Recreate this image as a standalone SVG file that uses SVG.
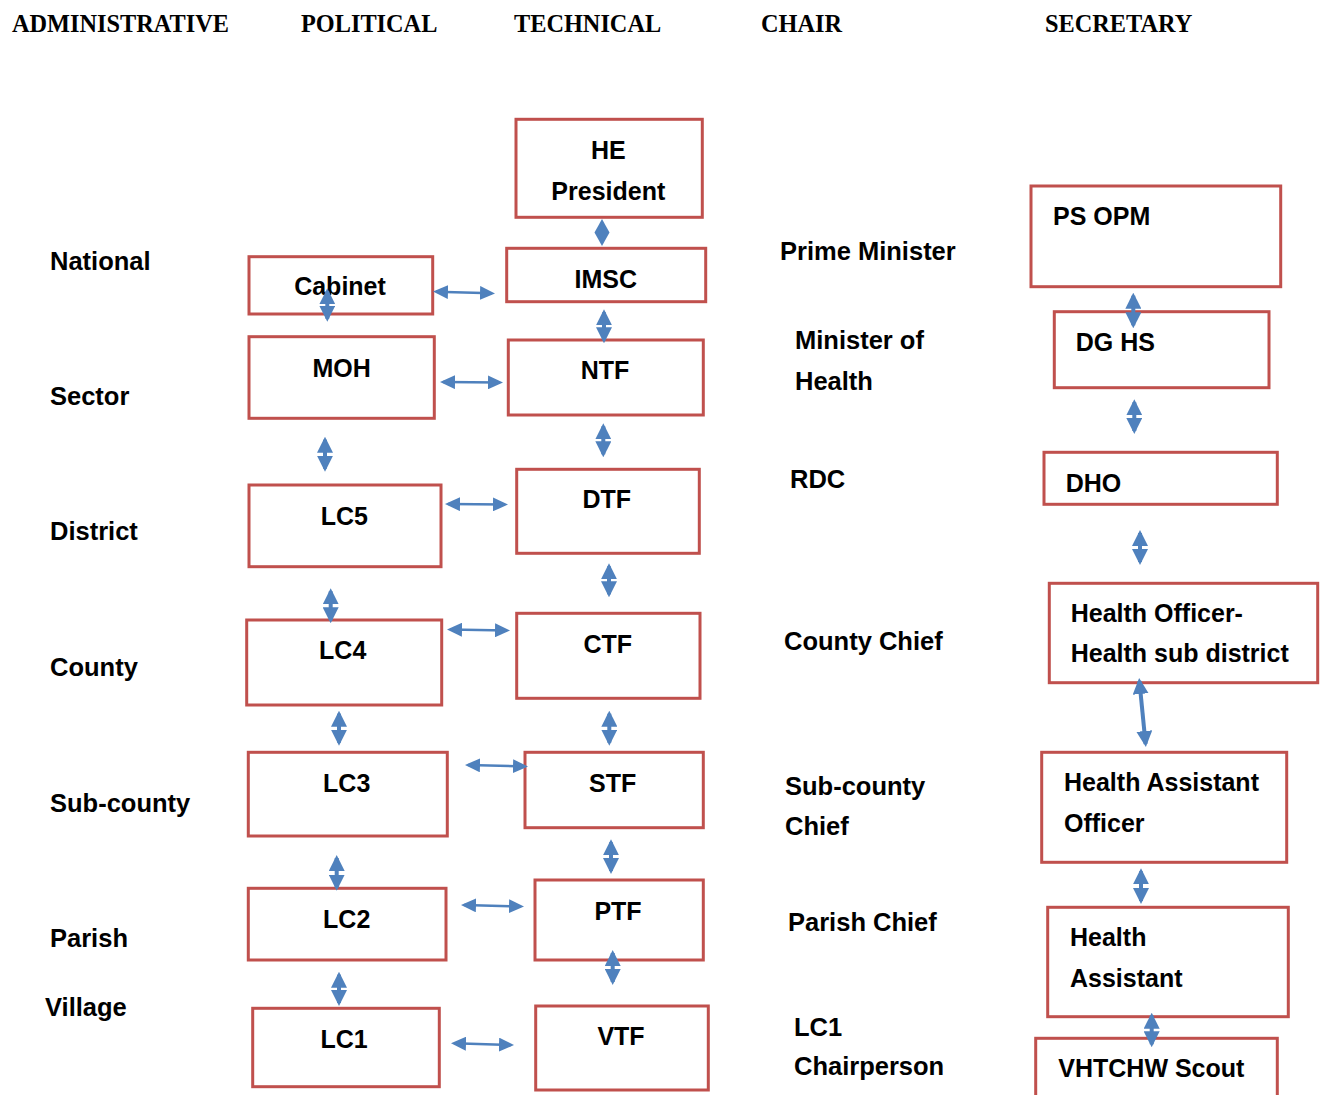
<svg xmlns="http://www.w3.org/2000/svg" width="1322" height="1095" viewBox="0 0 1322 1095">
<style>
.hdr{font-family:"Liberation Serif","Times New Roman",serif;font-weight:bold;font-size:24.3px;fill:#000}
.lbl{font-family:"Liberation Sans",Arial,sans-serif;font-weight:bold;font-size:25.5px;fill:#000}
.nt{font-family:"Liberation Sans",Arial,sans-serif;font-weight:bold;font-size:25px;fill:#000}
.c{text-anchor:middle}
.box{fill:#fff;stroke:#C0504D;stroke-width:3}
.ah{stroke:#4F81BD;stroke-width:2.5;fill:none;marker-start:url(#mh);marker-end:url(#mh)}
.av{stroke:#4F81BD;stroke-width:4;fill:none;marker-start:url(#mv);marker-end:url(#mv)}
</style>
<defs>
<marker id="mh" viewBox="0 0 15 14" refX="12" refY="7" markerWidth="15" markerHeight="14" markerUnits="userSpaceOnUse" orient="auto-start-reverse"><path d="M0,0 L15,7 L0,14 z" fill="#4F81BD"/></marker>
<marker id="mv" viewBox="0 0 16 16" refX="13" refY="8" markerWidth="16" markerHeight="16" markerUnits="userSpaceOnUse" orient="auto-start-reverse"><path d="M0,0 L16,8 L0,16 z" fill="#4F81BD"/></marker>
</defs>
<rect width="1322" height="1095" fill="#fff"/>
<g id="headers">
<text class="hdr" x="12" y="32">ADMINISTRATIVE</text>
<text class="hdr" x="301" y="32">POLITICAL</text>
<text class="hdr" x="514" y="32">TECHNICAL</text>
<text class="hdr" x="761" y="32">CHAIR</text>
<text class="hdr" x="1045" y="32">SECRETARY</text>
</g>
<g id="admin-labels">
<text class="lbl" x="50" y="270">National</text>
<text class="lbl" x="50" y="405">Sector</text>
<text class="lbl" x="50" y="540">District</text>
<text class="lbl" x="50" y="676">County</text>
<text class="lbl" x="50" y="812">Sub-county</text>
<text class="lbl" x="50" y="947">Parish</text>
<text class="lbl" x="45" y="1016">Village</text>
</g>
<g id="chair-labels">
<text class="lbl" x="780" y="260">Prime Minister</text>
<text class="lbl" x="795" y="349">Minister of</text>
<text class="lbl" x="795" y="390">Health</text>
<text class="lbl" x="790" y="488">RDC</text>
<text class="lbl" x="784" y="650">County Chief</text>
<text class="lbl" x="785" y="795">Sub-county</text>
<text class="lbl" x="785" y="835">Chief</text>
<text class="lbl" x="788" y="931">Parish Chief</text>
<text class="lbl" x="794" y="1036">LC1</text>
<text class="lbl" x="794" y="1075">Chairperson</text>
</g>
<g id="node-he"><rect class="box" x="516" y="119.3" width="186.3" height="98"/><text class="nt c" x="608.3" y="159">HE</text><text class="nt c" x="608.3" y="200">President</text></g>
<g id="node-cabinet"><rect class="box" x="249" y="256.7" width="183.7" height="57.3"/><text class="nt c" x="340" y="295">Cabinet</text></g>
<g id="node-imsc"><rect class="box" x="506.7" y="248.3" width="199" height="53.4"/><text class="nt c" x="605.7" y="288">IMSC</text></g>
<g id="node-moh"><rect class="box" x="249" y="336.7" width="185.3" height="81.6"/><text class="nt c" x="341.7" y="376.7">MOH</text></g>
<g id="node-ntf"><rect class="box" x="508.3" y="340" width="195" height="75"/><text class="nt c" x="605" y="379">NTF</text></g>
<g id="node-lc5"><rect class="box" x="249" y="485" width="192" height="81.7"/><text class="nt c" x="344.3" y="525">LC5</text></g>
<g id="node-dtf"><rect class="box" x="516.7" y="469.3" width="182.6" height="84"/><text class="nt c" x="606.7" y="508">DTF</text></g>
<g id="node-lc4"><rect class="box" x="246.7" y="620" width="195" height="85"/><text class="nt c" x="342.7" y="659.3">LC4</text></g>
<g id="node-ctf"><rect class="box" x="516.7" y="613.3" width="183.3" height="85"/><text class="nt c" x="607.7" y="653.3">CTF</text></g>
<g id="node-lc3"><rect class="box" x="248.3" y="752.3" width="199" height="83.7"/><text class="nt c" x="346.7" y="791.7">LC3</text></g>
<g id="node-stf"><rect class="box" x="525" y="752.3" width="178.3" height="75.4"/><text class="nt c" x="612.7" y="792">STF</text></g>
<g id="node-lc2"><rect class="box" x="248.3" y="888.3" width="197.7" height="71.7"/><text class="nt c" x="346.7" y="927.7">LC2</text></g>
<g id="node-ptf"><rect class="box" x="535" y="880" width="168.3" height="80"/><text class="nt c" x="618" y="920">PTF</text></g>
<g id="node-lc1"><rect class="box" x="252.7" y="1008.3" width="186.6" height="78.4"/><text class="nt c" x="344" y="1047.7">LC1</text></g>
<g id="node-vtf"><rect class="box" x="535.7" y="1006" width="172.6" height="84"/><text class="nt c" x="621" y="1045">VTF</text></g>
<g id="node-psopm"><rect class="box" x="1031" y="186" width="249.7" height="100.7"/><text class="nt" x="1053" y="225">PS OPM</text></g>
<g id="node-dghs"><rect class="box" x="1054.3" y="311.7" width="214.7" height="76"/><text class="nt" x="1075.7" y="350.7">DG HS</text></g>
<g id="node-dho"><rect class="box" x="1044" y="452.3" width="233.3" height="52"/><text class="nt" x="1065.7" y="491.7">DHO</text></g>
<g id="node-ho"><rect class="box" x="1049.3" y="583.3" width="268.4" height="99.4"/><text class="nt" x="1070.7" y="622.3">Health Officer-</text><text class="nt" x="1070.7" y="662.3">Health sub district</text></g>
<g id="node-hao"><rect class="box" x="1041.7" y="752.3" width="245" height="110"/><text class="nt" x="1064" y="790.7">Health Assistant</text><text class="nt" x="1064" y="831.7">Officer</text></g>
<g id="node-ha"><rect class="box" x="1047.7" y="907.3" width="240.6" height="109.4"/><text class="nt" x="1070" y="945.7">Health</text><text class="nt" x="1070" y="987.3">Assistant</text></g>
<g id="node-vht"><rect class="box" x="1035.7" y="1038.3" width="241.6" height="62"/><text class="nt" x="1058.3" y="1076.7">VHTCHW Scout</text></g>
<g id="connectors">
<path d="M602,219 L609.5,232.5 L602,246 L594.5,232.5 z" fill="#4F81BD"/>
<line class="ah" x1="436" y1="291.7" x2="492" y2="293.3"/>
<line class="ah" x1="443" y1="382" x2="500" y2="382.5"/>
<line class="ah" x1="448" y1="504" x2="505" y2="504.5"/>
<line class="ah" x1="450" y1="629.5" x2="507" y2="630.5"/>
<line class="ah" x1="468" y1="765" x2="525" y2="766.5"/>
<line class="ah" x1="464" y1="905" x2="521" y2="906.5"/>
<line class="ah" x1="454" y1="1043.3" x2="511" y2="1045"/>
<line class="av" x1="327.3" y1="291.3" x2="327.3" y2="318.7"/>
<line class="av" x1="604" y1="312.3" x2="604" y2="340.3"/>
<line class="av" x1="325" y1="439.7" x2="325" y2="468.7"/>
<line class="av" x1="603.3" y1="426.3" x2="603.3" y2="454.3"/>
<line class="av" x1="330.7" y1="591.3" x2="330.7" y2="620.3"/>
<line class="av" x1="609" y1="566.3" x2="609" y2="594.3"/>
<line class="av" x1="339" y1="713.7" x2="339" y2="742.7"/>
<line class="av" x1="609.3" y1="713.7" x2="609.3" y2="742.7"/>
<line class="av" x1="336.7" y1="858" x2="336.7" y2="887.7"/>
<line class="av" x1="611" y1="842.3" x2="611" y2="871"/>
<line class="av" x1="339" y1="974.7" x2="339" y2="1003"/>
<line class="av" x1="612.7" y1="953" x2="612.7" y2="982"/>
<line class="av" x1="1133.3" y1="295.7" x2="1133.3" y2="325.3"/>
<line class="av" x1="1134.3" y1="402.3" x2="1134.3" y2="431"/>
<line class="av" x1="1140" y1="533" x2="1140" y2="562"/>
<line class="av" x1="1139.4" y1="681" x2="1145.6" y2="744"/>
<line class="av" x1="1141" y1="871.3" x2="1141" y2="901"/>
<line class="av" x1="1151.7" y1="1015.7" x2="1151.7" y2="1044.3"/>
</g>
</svg>
